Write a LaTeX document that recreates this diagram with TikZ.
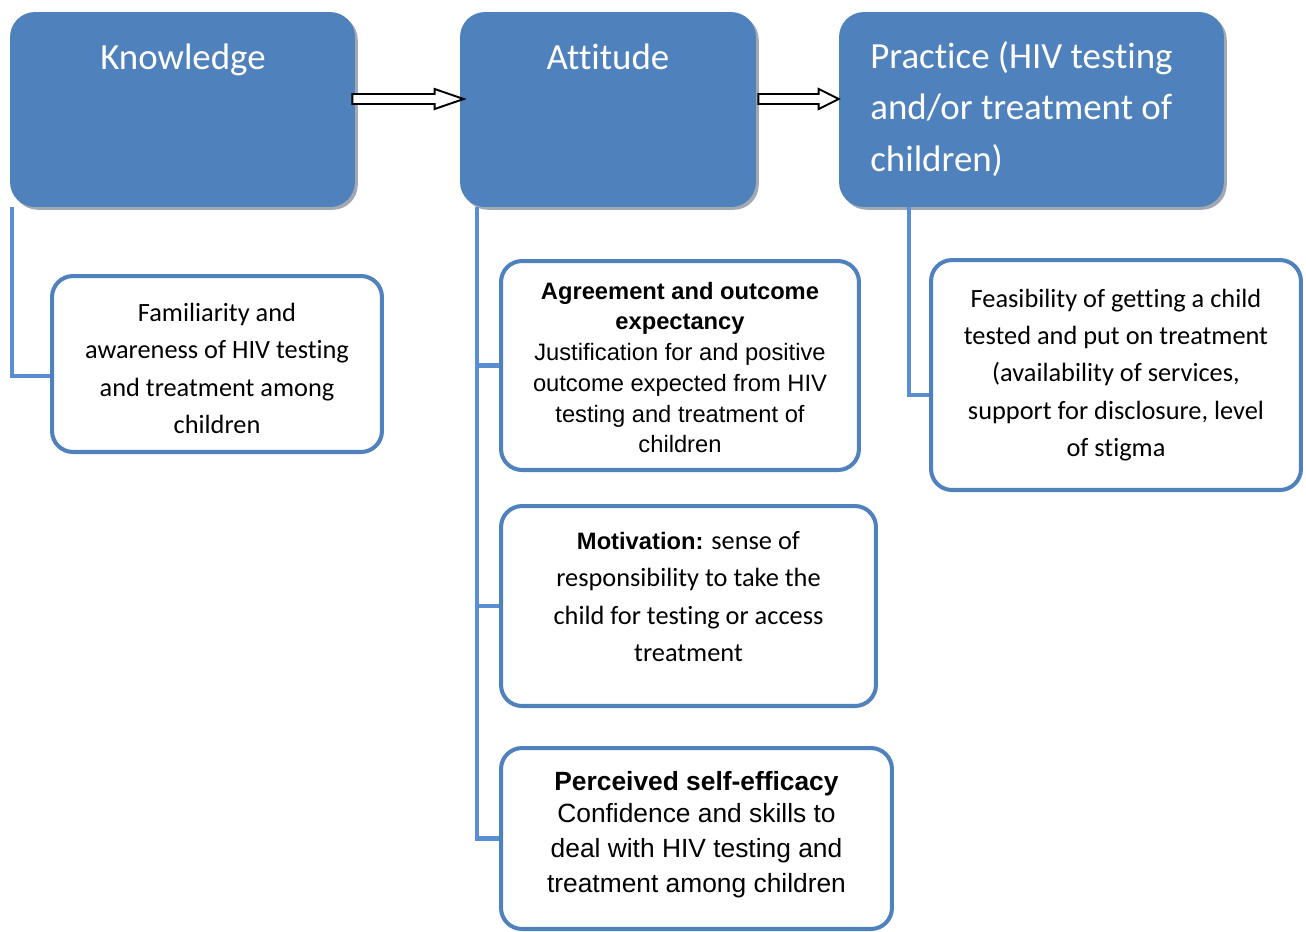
\documentclass[tikz,border=0pt]{standalone}
\usepackage{fontspec}
\setmainfont{Carlito}[Ligatures=NoCommon]
\newfontfamily\arialfont{Liberation Sans}
\usetikzlibrary{calc,shadows}

\definecolor{boxblue}{HTML}{4F81BD}
\definecolor{linkblue}{HTML}{5A8ED3}
\definecolor{shadowgray}{HTML}{A3A9B3}

\tikzset{
  headbox/.style={fill=boxblue, rounded corners=0.5cm, minimum height=3.9cm, inner sep=0pt,
    drop shadow={shadow xshift=1.6pt, shadow yshift=-1.6pt, fill=shadowgray, opacity=1}},
  headtext/.style={text=white, font=\fontsize{21}{29.5}\selectfont, inner sep=0pt},
  subbox/.style={draw=boxblue, line width=2.3pt, fill=white, rounded corners=0.42cm,
    align=center, inner sep=0pt},
  bodytext/.style={font=\fontsize{15}{21.3}\selectfont},
  link/.style={draw=linkblue, line width=2.3pt},
  blockarrow/.style={draw=black, fill=white, line width=1.1pt,
    to path={($(\tikztostart)+(0,5)$) -- ($(\tikztotarget)+(-#1,5)$) -- ($(\tikztotarget)+(-#1,10)$)
      -- (\tikztotarget) -- ($(\tikztotarget)+(-#1,-10)$) -- ($(\tikztotarget)+(-#1,-5)$)
      -- ($(\tikztostart)+(0,-5)$) -- cycle}},
  blockarrow/.default=25
}

\begin{document}
\begin{tikzpicture}[x=0.02cm, y=-0.02cm]

    \useasboundingbox (0,0) rectangle (1306,931);

    % Top level boxes
    \node[headbox, minimum width=6.9cm]  (know) at (182.5,109.5) {};
    \node[headbox, minimum width=5.92cm] (att)  at (608,109.5) {};
    \node[headbox, minimum width=7.7cm]  (prac) at (1031.5,109.5) {};

    \node[headtext] (knowT) at (183,60) {Knowledge};
    \node[headtext] (attT) at (608,57) {Attitude};
    \node[headtext, anchor=west, align=left] (pracT) at (870,109)
        {Practice (HIV testing\\and/or treatment of\\children)};

    % Arrows between the top boxes
    \coordinate (arrAs) at ([xshift=-0.06cm, yshift=0.21cm]know.east);
    \coordinate (arrAe) at ([xshift=0.08cm, yshift=0.21cm]att.west);
    \coordinate (arrBs) at ([xshift=0.04cm, yshift=0.21cm]att.east);
    \coordinate (arrBe) at ([yshift=0.21cm]prac.west);
    \draw[blockarrow=29] (arrAs) to (arrAe);
    \draw[blockarrow=20] (arrBs) to (arrBe);

    % Sub boxes
    \node[subbox, bodytext, minimum width=6.6cm, minimum height=3.52cm] (famil) at (217,364)
        {\rule{0pt}{15.5pt}Familiarity and\\awareness of HIV testing\\and treatment among\\children};
    \node[subbox, minimum width=7.16cm, minimum height=4.18cm,
          font=\arialfont\fontsize{13.5}{17.5}\selectfont] (agree) at (680,365.5)
        {\rule{0pt}{12pt}\textbf{Agreement and outcome}\\\textbf{expectancy}\\Justification for and positive\\outcome expected from HIV\\testing and treatment of\\children};
    \node[subbox, bodytext, minimum width=7.5cm, minimum height=4cm] (motiv) at (688.5,606)
        {{\arialfont\fontsize{13.5}{21.3}\selectfont\bfseries Motivation:} sense of\\responsibility to take the\\child for testing or access\\treatment\rule[-11pt]{0pt}{0pt}};
    \node[subbox, minimum width=7.82cm, minimum height=3.62cm,
          font=\arialfont\fontsize{15}{20}\selectfont] (selfeff) at (696.5,838.5)
        {\textbf{Perceived self-efficacy}\\[-2pt]Confidence and skills to\\deal with HIV testing and\\treatment among children\rule[-7pt]{0pt}{0pt}};
    \node[subbox, bodytext, minimum width=7.4cm, minimum height=4.6cm] (feas) at (1116,375)
        {Feasibility of getting a child\\tested and put on treatment\\(availability of services,\\support for disclosure, level\\of stigma};

    % Connectors
    \draw[link] ([xshift=0.04cm]know.south west) |- ([yshift=-0.24cm]famil.west);
    \coordinate (attdrop) at ([xshift=0.34cm]att.south west);
    \draw[link] (attdrop) |- (selfeff.west);
    \draw[link] (attdrop |- agree.west) -- (agree.west);
    \draw[link] (attdrop |- motiv.west) -- (motiv.west);
    \draw[link] ([xshift=1.4cm]prac.south west) |- ([yshift=-0.4cm]feas.west);

\end{tikzpicture}
\end{document}
